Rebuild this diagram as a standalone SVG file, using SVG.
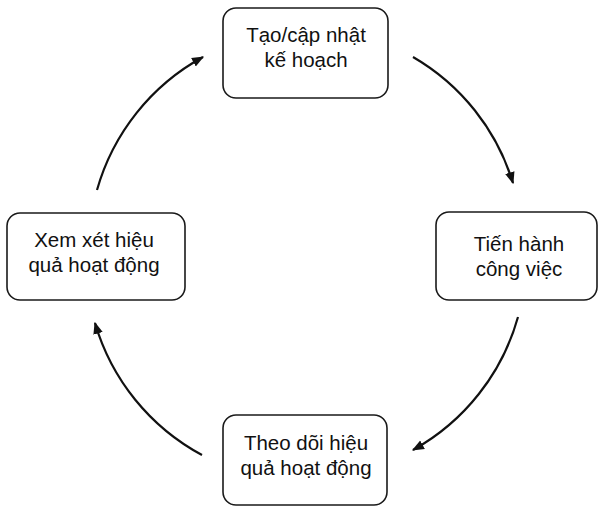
<svg xmlns="http://www.w3.org/2000/svg" width="599" height="506" viewBox="0 0 599 506">
<style>
.box{fill:#fff;stroke:#1a1a1a;stroke-width:1.6}
.t{font-family:"Liberation Sans",Arial,sans-serif;font-size:20.5px;fill:#111;text-anchor:middle}
.arc{fill:none;stroke:#111;stroke-width:2.2}
</style>
<defs>
<marker id="ah" viewBox="0 0 10 10" refX="9" refY="5" markerWidth="5.5" markerHeight="5.5" orient="auto" markerUnits="strokeWidth">
<path d="M0,1 L10,5 L0,9 Z" fill="#111"/>
</marker>
</defs>
<rect width="599" height="506" fill="#fff"/>
<g id="connectors">
<path class="arc" d="M97,190 A220,220 0 0 1 203,57" marker-end="url(#ah)"/>
<path class="arc" d="M413,57 A220,220 0 0 1 513,183" marker-end="url(#ah)"/>
<path class="arc" d="M518,317 A220,220 0 0 1 413,450" marker-end="url(#ah)"/>
<path class="arc" d="M202,455 A220,220 0 0 1 95,323" marker-end="url(#ah)"/>
</g>
<g id="node-plan">
<rect class="box" x="223" y="8" width="165" height="90" rx="13"/>
<text class="t" x="306" y="42">Tạo/cập nhật</text>
<text class="t" x="306" y="67">kế hoạch</text>
</g>
<g id="node-execute">
<rect class="box" x="436" y="212" width="161" height="88" rx="13"/>
<text class="t" x="519" y="251">Tiến hành</text>
<text class="t" x="519" y="276">công việc</text>
</g>
<g id="node-monitor">
<rect class="box" x="223" y="415" width="164" height="90" rx="13"/>
<text class="t" x="306" y="450">Theo dõi hiệu</text>
<text class="t" x="306" y="475">quả hoạt động</text>
</g>
<g id="node-review">
<rect class="box" x="7" y="213" width="178" height="87" rx="13"/>
<text class="t" x="94" y="247">Xem xét hiệu</text>
<text class="t" x="94" y="272">quả hoạt động</text>
</g>
</svg>
